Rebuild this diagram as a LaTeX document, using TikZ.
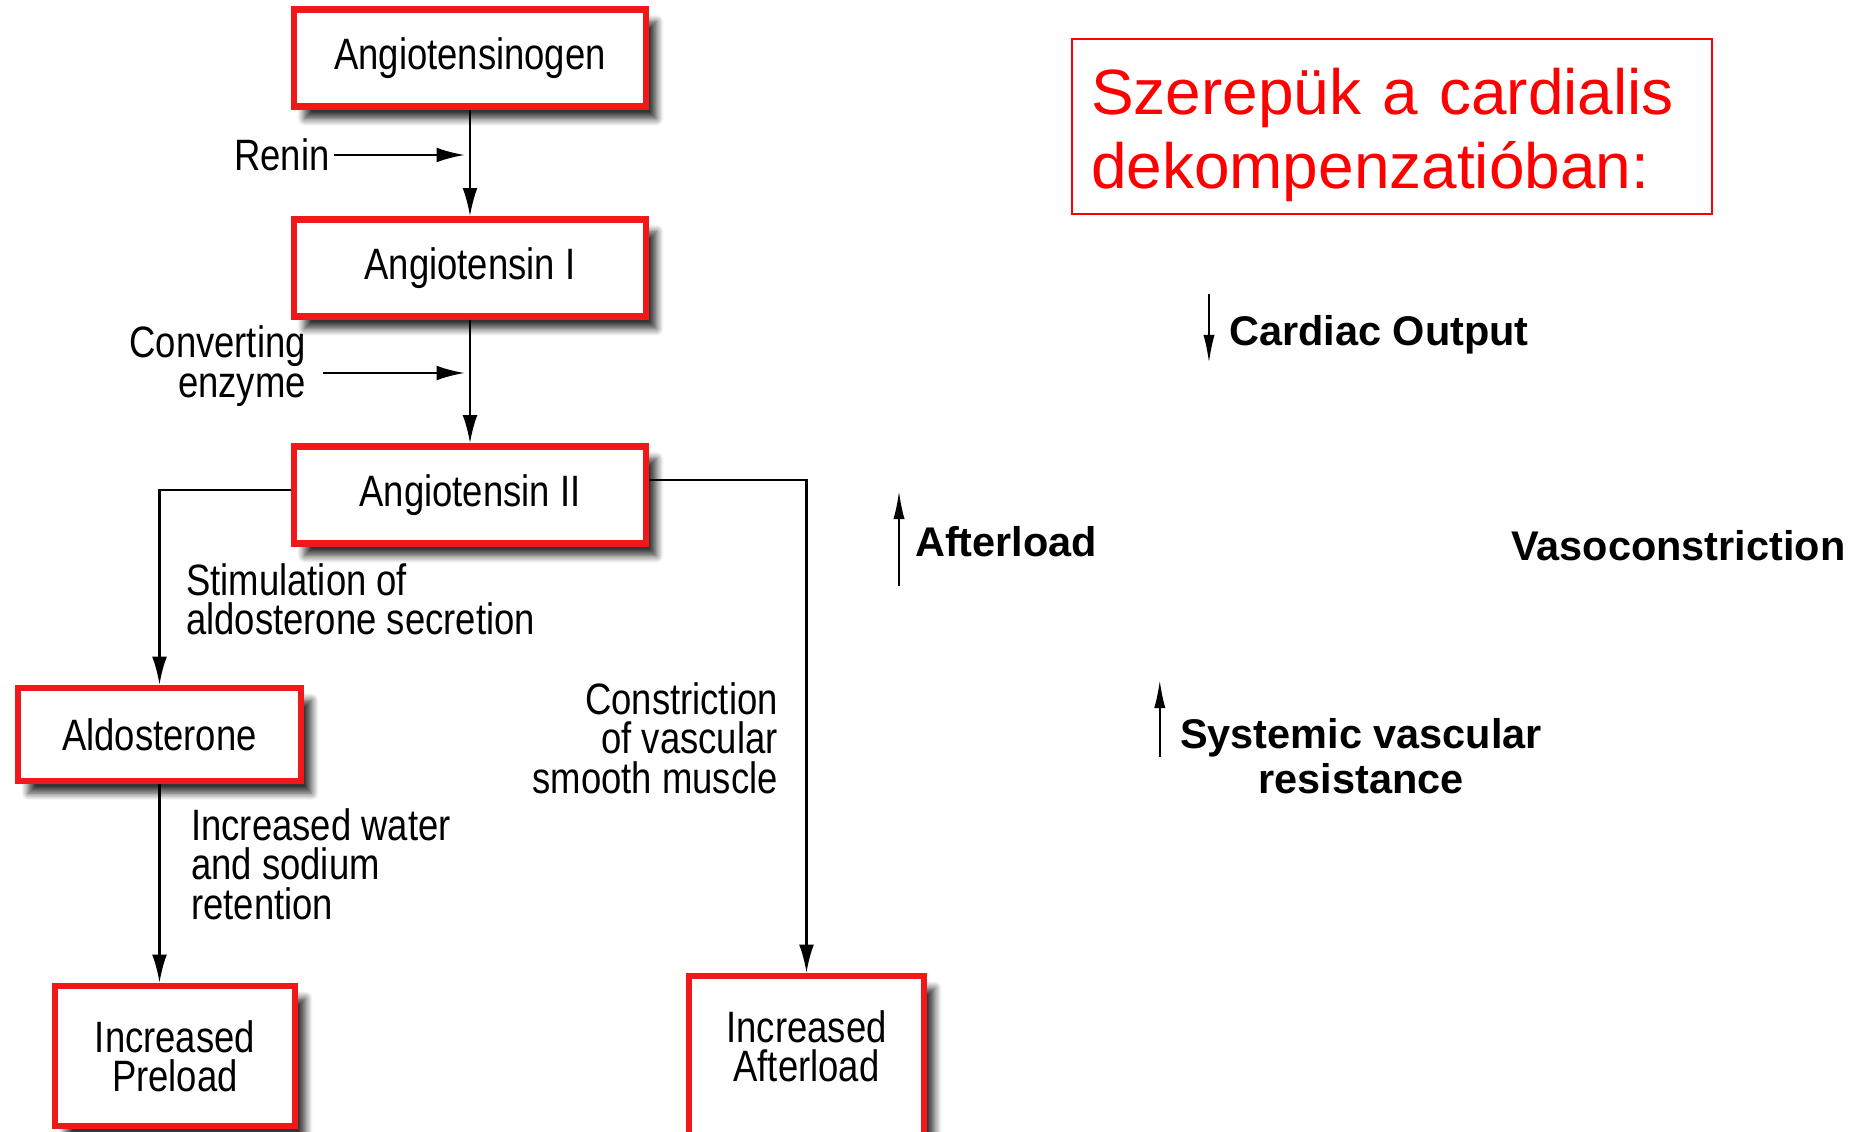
\documentclass[tikz,border=0pt]{standalone}
\usepackage{fontspec}
\setmainfont{Liberation Sans}
\newfontfamily\narrowfont[FakeStretch=0.83]{Liberation Sans}
\usetikzlibrary{arrows.meta,calc,shadows.blur}

\definecolor{boxred}{RGB}{240,24,24}
\definecolor{titlered}{RGB}{255,0,0}

\begin{document}
\begin{tikzpicture}[>={Latex[length=8pt,width=4.2pt]}, line width=0.7pt,
  % Pathway boxes: thick red frame, soft shadow
  redbox/.style={draw=boxred, line width=1.8pt, fill=white, minimum width=3.52cm,
                 minimum height=0.97cm, align=center,
                 font=\narrowfont\fontsize{12.5}{11.2}\selectfont,
                 blur shadow={shadow xshift=3pt, shadow yshift=-3.5pt, shadow blur radius=2pt,
                              shadow blur steps=8, shadow opacity=80}},
  % Labels next to the connectors
  steplabel/.style={font=\narrowfont\fontsize{12.5}{11.2}\selectfont, inner sep=0pt},
  % Bold effects on the right
  effect/.style={font=\bfseries\fontsize{11.8}{12.9}\selectfont, inner sep=0pt},
  tick/.style={-{Latex[length=8pt,width=3.2pt]}, line width=0.6pt}
]
  \useasboundingbox (0,0) rectangle (18.64,11.32);

  % Main cascade
  \node[redbox] (angen) at (4.70,10.74) {Angiotensinogen};
  \node[redbox] (ang1)  at (4.70,8.64)  {Angiotensin I};
  \node[redbox] (ang2)  at (4.70,6.37)  {Angiotensin II};

  % Left branch
  \node[redbox, minimum width=2.83cm, minimum height=0.93cm] (aldo) at (1.595,3.975) {Aldosterone};
  \node[redbox, minimum width=2.40cm, minimum height=1.40cm] (preload) at (1.75,0.76) {Increased\\Preload};

  % Right branch (box runs off the bottom, text sits a bit higher)
  \node[redbox, minimum width=2.35cm, minimum height=1.64cm] (afterload) at (8.065,0.74)
    {Increased\\Afterload\rule[-6.8pt]{0pt}{6.8pt}};

  % Enzymes and step labels
  \node[steplabel] (renin) at (2.82,9.77) {Renin};
  \node[steplabel, align=right, anchor=east] (conv) at (3.07,7.66) {Converting\\enzyme};
  \node[steplabel, align=left, anchor=west] (stim) at (1.85,5.33) {Stimulation of\\aldosterone secretion};
  \node[steplabel, align=left, anchor=west] (water) at (1.90,2.68) {Increased water\\and sodium\\retention};
  \node[steplabel, align=right, anchor=east] (constr) at (7.79,3.94) {Constriction\\of vascular\\smooth muscle};

  % Cascade arrows
  \draw[->] (angen) -- (ang1);
  \draw[->] (ang1) -- (ang2);
  \draw[->, shorten >=1.5pt] ([xshift=1pt]renin.east) -- (renin.east -| angen.south);
  \draw[->, shorten >=1.5pt] ([xshift=4.5pt,yshift=-2pt]conv.east) -- ([yshift=-2pt]conv.east -| ang1.south);

  % Branches out of Angiotensin II
  \draw[->] ([yshift=0.05cm]ang2.west) -| (aldo.north);
  \draw[->] (aldo.south) -- (aldo.south |- preload.north);
  \draw[->] ([yshift=0.15cm]ang2.east) -| (afterload.north);

  % Title
  \node[draw=titlered, line width=0.5pt, text=titlered, minimum width=6.40cm, minimum height=1.75cm,
        text width=6.02cm, inner xsep=0.19cm, align=left,
        font=\fontsize{18.2}{21.3}\selectfont] (title) at (13.92,10.055)
        {\rule{0pt}{18pt}Szerepük a cardialis\\dekompenzatióban:};

  % Haemodynamic effects
  \node[effect, anchor=west] (co) at (12.28,7.97) {Cardiac Output};
  \draw[tick] ($(co.west)+(-0.19,0.41)$) -- ++(0,-0.69);

  \node[effect, anchor=west] (aft) at (9.14,5.90) {Afterload};
  \draw[tick] ($(aft.west)+(-0.15,-0.44)$) -- ++(0,0.95);

  \node[effect, anchor=west] (vaso) at (15.10,5.86) {Vasoconstriction};

  \node[effect, align=center] (svr) at (13.61,3.76) {Systemic vascular\\resistance};
  \draw[tick] ($(svr.west)+(-0.19,-0.01)$) -- ++(0,0.77);
\end{tikzpicture}
\end{document}
